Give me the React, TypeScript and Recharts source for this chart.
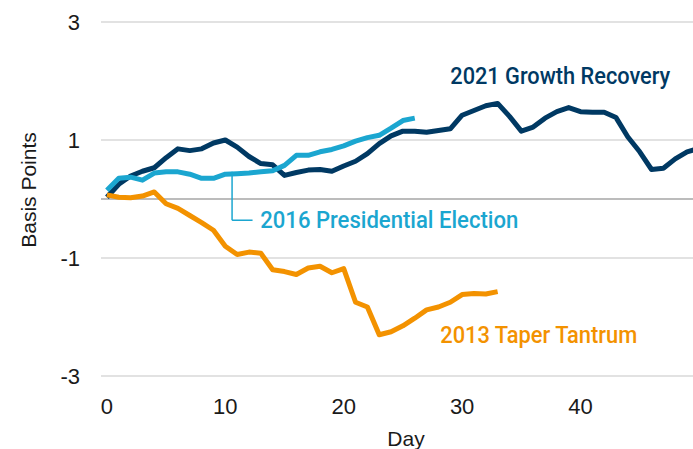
import React from "react";
import {
  LineChart,
  Line,
  XAxis,
  YAxis,
  CartesianGrid,
  ReferenceLine,
  ReferenceDot,
} from "recharts";

// ---- data ----
const days: number[] = Array.from({ length: 51 }, (_, i) => i);

const growth2021: (number | null)[] = [
  0.03, 0.25, 0.39, 0.47, 0.53, 0.7, 0.85, 0.82, 0.85, 0.95,
  1.0, 0.88, 0.72, 0.6, 0.58, 0.4, 0.45, 0.49, 0.5, 0.47,
  0.56, 0.64, 0.77, 0.94, 1.07, 1.15, 1.15, 1.13, 1.16, 1.19,
  1.42, 1.5, 1.58, 1.62, 1.4, 1.15, 1.22, 1.37, 1.48, 1.55,
  1.48, 1.47, 1.47, 1.38, 1.05, 0.8, 0.5, 0.52, 0.68, 0.8, 0.86,
];

const election2016: (number | null)[] = [
  0.15, 0.35, 0.37, 0.32, 0.44, 0.46, 0.46, 0.42, 0.35, 0.35,
  0.42, 0.43, 0.44, 0.46, 0.48, 0.57, 0.74, 0.74, 0.8, 0.84,
  0.9, 0.98, 1.04, 1.08, 1.2, 1.33, 1.37,
];

const taper2013: (number | null)[] = [
  0.07, 0.03, 0.02, 0.05, 0.12, -0.08, -0.16, -0.28, -0.4, -0.53,
  -0.8, -0.94, -0.9, -0.92, -1.2, -1.23, -1.28, -1.17, -1.14, -1.25,
  -1.18, -1.75, -1.83, -2.3, -2.25, -2.15, -2.02, -1.88, -1.83, -1.75,
  -1.62, -1.6, -1.61, -1.57,
];

const xTicks = [0, 10, 20, 30, 40];
const yTicks = [-3, -1, 1, 3];

const seriesNames = ["2021 Growth Recovery", "2016 Presidential Election", "2013 Taper Tantrum"];

const rows = days.map((d, i) => ({
  day: d,
  g2021: growth2021[i] ?? null,
  e2016: election2016[i] ?? null,
  t2013: taper2013[i] ?? null,
}));

// ---- styles ----
const NAVY = "#003963";
const LIGHT = "#1BA6D0";
const ORANGE = "#F39200";
const AXIS_FONT = "'Liberation Sans', Arial, sans-serif";
const LABEL_FONT = "Roboto, 'Noto Sans', sans-serif";

const makeLabel = (text: string, color: string, width: number) => (props: any) => {
  const vb = props.viewBox || {};
  return (
    <text
      x={vb.x}
      y={vb.y}
      fill={color}
      fontFamily={LABEL_FONT}
      fontWeight={500}
      fontSize={24}
      textLength={width}
      lengthAdjust="spacingAndGlyphs"
    >
      {text}
    </text>
  );
};

const yTitle = (props: any) => {
  const vb = props.viewBox || {};
  const x = vb.x + 28.5;
  const y = vb.y + vb.height / 2 - 9;
  return (
    <text
      x={x}
      y={y}
      transform={`rotate(-90 ${x} ${y})`}
      textAnchor="middle"
      dominantBaseline="central"
      fontFamily={AXIS_FONT}
      fontSize={21}
      fill="#1a1a1a"
    >
      Basis Points
    </text>
  );
};

const xTitle = (props: any) => {
  const vb = props.viewBox || {};
  return (
    <text
      x={vb.x + vb.width / 2 + 9}
      y={vb.y + 62}
      textAnchor="middle"
      dominantBaseline="central"
      fontFamily={AXIS_FONT}
      fontSize={21}
      fill="#1a1a1a"
    >
      Day
    </text>
  );
};

export default function App() {
  return (
    <div
      style={{
        position: "fixed",
        left: 0,
        top: 0,
        width: 693,
        height: 449,
        background: "#fff",
      }}
    >
      <LineChart
        width={693}
        height={449}
        data={rows}
        margin={{ top: 22, right: 0, bottom: 0, left: 0 }}
      >
        <CartesianGrid vertical={false} stroke="#D9D9D9" strokeWidth={1.5} />
        <XAxis
          dataKey="day"
          type="number"
          domain={[-0.5, 49.5]}
          allowDataOverflow
          ticks={xTicks}
          interval={0}
          axisLine={false}
          tickLine={false}
          tickSize={0}
          tickMargin={22}
          height={73}
          tick={{ fontFamily: AXIS_FONT, fontSize: 22, fill: "#1a1a1a" }}
          label={{ content: xTitle }}
        />
        <YAxis
          type="number"
          domain={[-3, 3]}
          ticks={yTicks}
          interval={0}
          axisLine={false}
          tickLine={false}
          tickSize={0}
          tickMargin={21}
          width={101}
          tick={{ fontFamily: AXIS_FONT, fontSize: 22, fill: "#1a1a1a" }}
          label={{ content: yTitle }}
        />
        <ReferenceLine y={0} stroke="#A6A6A6" strokeWidth={1.5} />
        <ReferenceLine
          segment={[{ x: 10.57, y: 0.46 }, { x: 10.57, y: -0.36 }]}
          stroke={LIGHT}
          strokeWidth={1.5}
        />
        <ReferenceLine
          segment={[{ x: 10.57, y: -0.36 }, { x: 12.3, y: -0.36 }]}
          stroke={LIGHT}
          strokeWidth={1.5}
        />
        <Line
          dataKey="g2021"
          name={seriesNames[0]}
          stroke={NAVY}
          strokeWidth={5}
          strokeLinejoin="round"
          dot={false}
          isAnimationActive={false}
        />
        <Line
          dataKey="e2016"
          name={seriesNames[1]}
          stroke={LIGHT}
          strokeWidth={5}
          strokeLinejoin="round"
          dot={false}
          isAnimationActive={false}
        />
        <Line
          dataKey="t2013"
          name={seriesNames[2]}
          stroke={ORANGE}
          strokeWidth={5}
          strokeLinejoin="round"
          dot={false}
          isAnimationActive={false}
        />
        <ReferenceDot
          x={29.0}
          y={1.95}
          r={0}
          fill="none"
          stroke="none"
          label={{ content: makeLabel(seriesNames[0], NAVY, 220) }}
        />
        <ReferenceDot
          x={12.95}
          y={-0.49}
          r={0}
          fill="none"
          stroke="none"
          label={{ content: makeLabel(seriesNames[1], LIGHT, 258) }}
        />
        <ReferenceDot
          x={28.15}
          y={-2.44}
          r={0}
          fill="none"
          stroke="none"
          label={{ content: makeLabel(seriesNames[2], ORANGE, 197) }}
        />
      </LineChart>
    </div>
  );
}
